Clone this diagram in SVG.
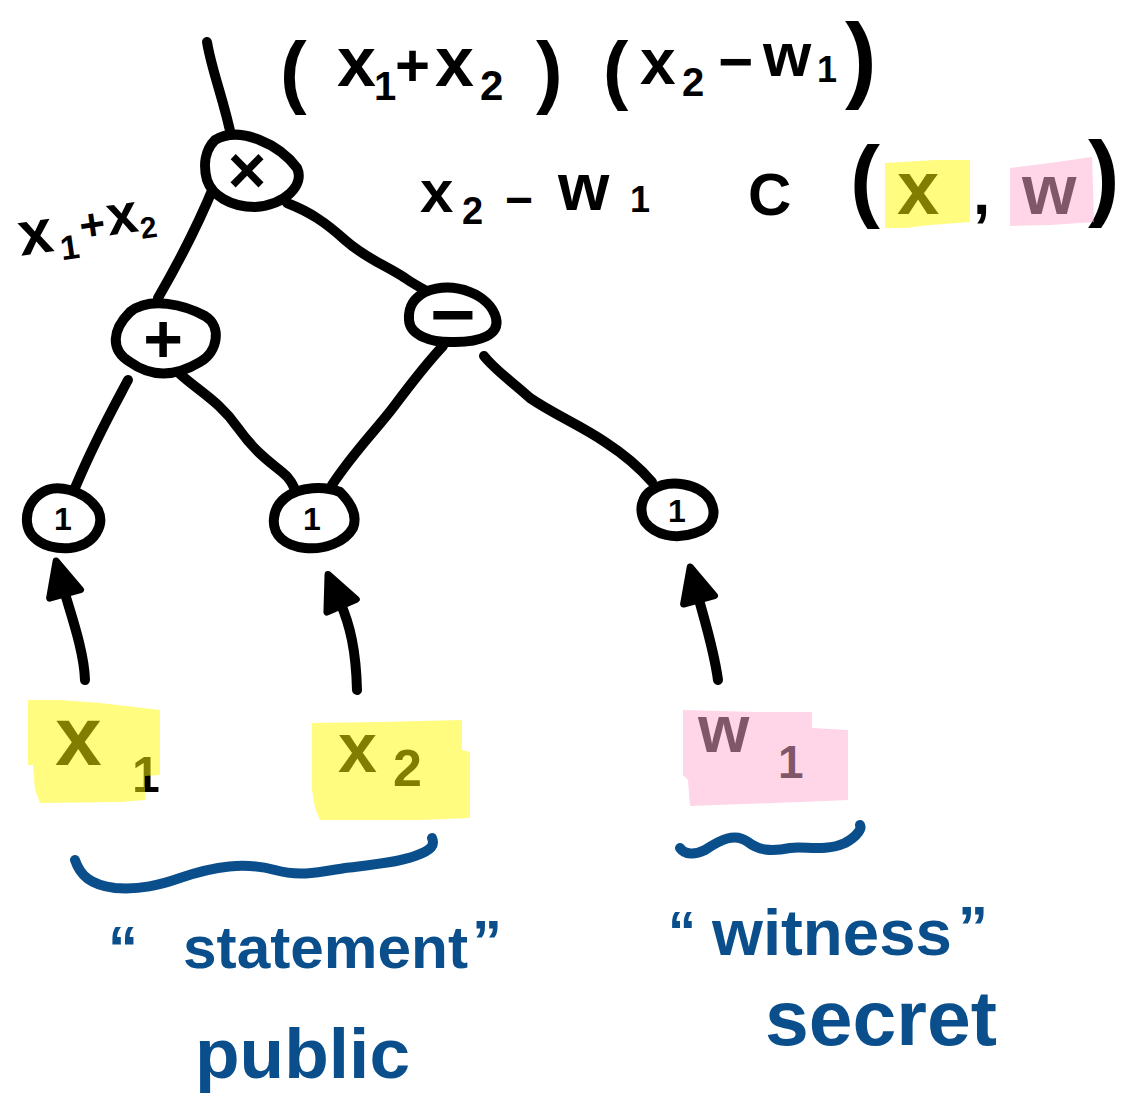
<svg xmlns="http://www.w3.org/2000/svg" width="1133" height="1100" viewBox="0 0 1133 1100">
  <defs>
    <style>
      .ink { fill: none; stroke: #000; stroke-width: 10; stroke-linecap: round; stroke-linejoin: round; }
      .node { fill: #fff; stroke: #000; stroke-width: 10; stroke-linejoin: round; }
      .brace { fill: none; stroke: #0a4f8c; stroke-width: 10; stroke-linecap: round; stroke-linejoin: round; }
      .t { font-family: "Liberation Sans", Arial, sans-serif; font-weight: bold; fill: #000; }
      .lbl { font-family: "Liberation Sans", Arial, sans-serif; font-weight: bold; fill: #000; text-anchor: middle; dominant-baseline: central; }
      .blue { font-family: "Liberation Sans", Arial, sans-serif; font-weight: bold; fill: #0a4f8c; }
      .hy { fill: #fffa00; opacity: 0.5; }
      .hp { fill: #ffabd1; opacity: 0.5; }
    </style>
    <marker id="head" markerUnits="userSpaceOnUse" markerWidth="46" markerHeight="42" viewBox="-5 -5 46 42" refX="4" refY="16" orient="auto">
      <path d="M0,0 L34,16 L0,32 Z" fill="#000" stroke="#000" stroke-width="7" stroke-linejoin="round"/>
    </marker>
  </defs>

  <rect width="1133" height="1100" fill="#fff"/>

  <!-- connectors -->
  <g id="connectors">
    <path class="ink" d="M207,42 C212,72 224,100 232,140"/>
    <path class="ink" d="M214,186 C200,220 180,260 158,298"/>
    <path class="ink" d="M287,203 C310,212 325,222 345,240 C365,258 385,265 405,278 C415,285 425,290 432,294"/>
    <path class="ink" d="M128,380 C112,410 95,440 75,488"/>
    <path class="ink" d="M180,374 C200,392 220,402 238,428 C255,452 270,462 282,472 C290,478 293,485 296,492"/>
    <path class="ink" d="M443,346 C425,365 410,385 395,405 C378,428 355,450 332,485"/>
    <path class="ink" d="M484,356 C495,370 510,380 530,398 C555,415 580,425 605,442 C625,455 640,468 652,482"/>
    <!-- inputs feeding the leaf nodes -->
    <path class="ink" d="M85,680 C84,650 70,612 64,590" marker-end="url(#head)"/>
    <path class="ink" d="M357,690 C356,650 350,625 340,602" marker-end="url(#head)"/>
    <path class="ink" d="M718,680 C714,650 705,622 698,596" marker-end="url(#head)"/>
  </g>

  <!-- gate nodes -->
  <g id="node-mul">
    <path class="node" d="M215,140 C240,125 280,145 297,168 C305,185 285,205 255,207 C230,207 212,195 207,180 C203,165 205,150 215,140 Z"/>
    <text class="lbl" x="247" y="170" font-size="66">×</text>
  </g>
  <g id="node-add">
    <path class="node" d="M130,312 C150,296 185,305 205,316 C222,326 218,352 200,362 C180,374 155,380 130,362 C110,350 112,330 130,312 Z"/>
    <text class="lbl" x="163" y="338" font-size="68">+</text>
  </g>
  <g id="node-sub">
    <path class="node" d="M425,292 C455,280 490,295 496,318 C500,335 480,342 455,342 C430,343 410,335 409,320 C408,305 415,298 425,292 Z"/>
    <text class="lbl" x="453" y="314" font-size="78">−</text>
  </g>
  <g id="node-in1">
    <path class="node" d="M40,494 C55,482 85,490 98,510 C105,525 95,545 70,548 C45,550 28,538 27,522 C26,510 32,500 40,494 Z"/>
    <text class="lbl" x="63" y="519" font-size="32">1</text>
  </g>
  <g id="node-in2">
    <path class="node" d="M285,498 C300,486 325,486 340,492 C350,502 358,515 353,528 C345,542 325,550 305,548 C285,546 272,535 274,518 C275,508 280,502 285,498 Z"/>
    <text class="lbl" x="312" y="519" font-size="32">1</text>
  </g>
  <g id="node-in3">
    <path class="node" d="M652,490 C670,478 700,484 710,500 C718,515 712,528 695,533 C675,540 655,535 645,522 C638,510 642,496 652,490 Z"/>
    <text class="lbl" x="677" y="511" font-size="32">1</text>
  </g>

  <!-- output expression -->
  <g id="expr-out">
    <text class="t">
      <tspan x="280" y="98" font-size="80">(</tspan>
      <tspan x="337" y="86" font-size="70">x</tspan>
      <tspan x="374" y="100" font-size="40">1</tspan>
      <tspan x="395" y="86" font-size="60">+</tspan>
      <tspan x="435" y="86" font-size="70">x</tspan>
      <tspan x="480" y="100" font-size="42">2</tspan>
      <tspan x="536" y="98" font-size="80">)</tspan>
      <tspan x="603" y="95" font-size="76">(</tspan>
      <tspan x="640" y="84" font-size="64">x</tspan>
      <tspan x="682" y="96" font-size="40">2</tspan>
      <tspan x="718" y="82" font-size="60">−</tspan>
      <tspan x="763" y="76" font-size="62">w</tspan>
      <tspan x="817" y="82" font-size="36">1</tspan>
      <tspan x="845" y="90" font-size="95">)</tspan>
    </text>
  </g>

  <!-- intermediate wire labels -->
  <g id="label-sum" transform="rotate(-8 90 230)">
    <text class="t">
      <tspan x="18" y="246" font-size="62">x</tspan>
      <tspan x="58" y="256" font-size="34">1</tspan>
      <tspan x="80" y="240" font-size="44">+</tspan>
      <tspan x="108" y="238" font-size="56">x</tspan>
      <tspan x="140" y="246" font-size="30">2</tspan>
    </text>
  </g>
  <g id="label-diff">
    <text class="t">
      <tspan x="420" y="212" font-size="60">x</tspan>
      <tspan x="462" y="224" font-size="38">2</tspan>
      <tspan x="505" y="216" font-size="48">−</tspan>
      <tspan x="558" y="210" font-size="66">w</tspan>
      <tspan x="630" y="212" font-size="36">1</tspan>
    </text>
  </g>

  <!-- C(x, w) -->
  <g id="label-circuit">
    <text class="t">
      <tspan x="748" y="215" font-size="60">C</tspan>
      <tspan x="850" y="210" font-size="90">(</tspan>
      <tspan x="897" y="214" font-size="76">x</tspan>
      <tspan x="973" y="214" font-size="62">,</tspan>
      <tspan x="1022" y="214" font-size="70">w</tspan>
      <tspan x="1088" y="208" font-size="95">)</tspan>
    </text>
    <path class="hy" d="M885,163 L935,160 L970,160 L970,222 L930,225 L905,228 L885,228 Z"/>
    <path class="hp" d="M1010,168 L1050,163 L1092,157 L1094,222 L1050,225 L1010,226 Z"/>
  </g>

  <!-- inputs -->
  <g id="input-x1">
    <text class="t">
      <tspan x="55" y="765" font-size="84">x</tspan>
      <tspan x="132" y="792" font-size="50">1</tspan>
    </text>
    <path class="hy" d="M28,700 L60,700 L100,703 L160,710 L160,775 L145,776 L145,800 L120,802 L40,803 L35,790 L33,765 L28,765 Z"/>
  </g>
  <g id="input-x2">
    <text class="t">
      <tspan x="338" y="772" font-size="70">x</tspan>
      <tspan x="393" y="786" font-size="52">2</tspan>
    </text>
    <path class="hy" d="M312,723 L380,722 L462,720 L462,750 L470,752 L470,818 L420,820 L320,820 L315,808 L312,790 Z"/>
  </g>
  <g id="input-w1">
    <text class="t">
      <tspan x="698" y="752" font-size="66">w</tspan>
      <tspan x="778" y="778" font-size="46">1</tspan>
    </text>
    <path class="hp" d="M683,710 L755,712 L812,712 L812,728 L848,730 L848,800 L800,802 L690,806 L688,780 L683,775 Z"/>
  </g>

  <!-- groupings -->
  <g id="brace-statement">
    <path class="brace" d="M75,860 C80,875 90,885 115,888 C140,890 160,885 180,878 C215,866 245,862 275,870 C300,877 320,872 345,868 C370,865 395,863 415,856 C432,850 435,845 432,838"/>
    <text class="blue">
      <tspan x="108" y="968" font-size="60">“</tspan>
      <tspan x="183" y="968" font-size="60" textLength="285" lengthAdjust="spacingAndGlyphs">statement</tspan>
      <tspan x="472" y="962" font-size="60">”</tspan>
    </text>
    <text class="blue" x="195" y="1078" font-size="70" textLength="215" lengthAdjust="spacingAndGlyphs">public</text>
  </g>
  <g id="brace-witness">
    <path class="brace" d="M680,848 C685,855 695,855 705,850 C720,840 735,832 748,842 C758,850 770,852 790,848 C805,846 825,852 845,843 C858,836 862,828 860,825"/>
    <text class="blue">
      <tspan x="668" y="950" font-size="56">“</tspan>
      <tspan x="712" y="955" font-size="64" textLength="240" lengthAdjust="spacingAndGlyphs">witness</tspan>
      <tspan x="958" y="948" font-size="60">”</tspan>
    </text>
    <text class="blue" x="765" y="1045" font-size="78" textLength="232" lengthAdjust="spacingAndGlyphs">secret</text>
  </g>
</svg>
